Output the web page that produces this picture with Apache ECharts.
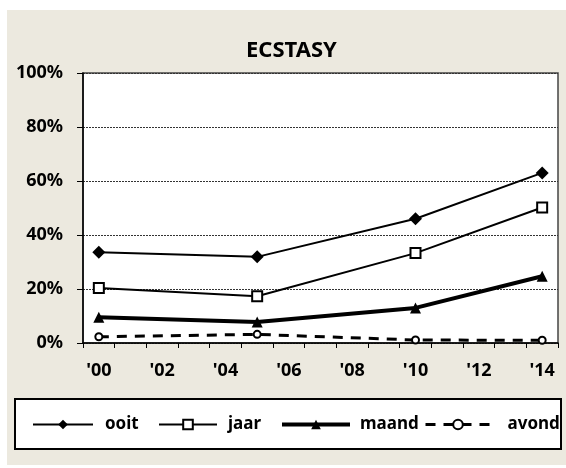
<!DOCTYPE html>
<html>
<head>
<meta charset="utf-8">
<script src="https://cdn.jsdelivr.net/npm/echarts@6/dist/echarts.min.js"></script>
<style>
  html, body { margin: 0; padding: 0; background: #ffffff; }
  #chart { width: 566px; height: 468px; }
</style>
</head>
<body>
<div id="chart"></div>
<script>
// Year categories on the x axis ('00 .. '14), only every other one is labelled
const years = ['\'00', '\'01', '\'02', '\'03', '\'04', '\'05', '\'06', '\'07',
               '\'08', '\'09', '\'10', '\'11', '\'12', '\'13', '\'14'];
// Survey years in which measurements were taken
const surveyYears = ['\'00', '\'05', '\'10', '\'14'];
// Prevalence of ecstasy use (%)
const ooit  = [33.6, 31.9, 46.0, 63.0];
const jaar  = [20.4, 17.3, 33.3, 50.2];
const maand = [9.5, 7.8, 13.0, 24.7];
const avond = [2.3, 3.2, 1.1, 1.0];
// Y axis ticks (%)
const yTicks = [0, 20, 40, 60, 80, 100];
const seriesNames = ['ooit', 'jaar', 'maand', 'avond'];

function spread(values) {
  const out = years.map(() => null);
  surveyYears.forEach((y, i) => { out[years.indexOf(y)] = values[i]; });
  return out;
}

const FONT = '"Noto Sans", "DejaVu Sans", sans-serif';
const chart = echarts.init(document.getElementById('chart'), null, { renderer: 'canvas' });

// one legend per entry so each key sits at its own spot inside the box
const legendLayout = [
  { left: 32, width: 60, gap: 7, line: 2 },
  { left: 158, width: 58, gap: 6, line: 2 },
  { left: 280, width: 68, gap: 5, line: 4 },
  { left: 424, width: 65, gap: 12, line: 3 }
];
const legends = seriesNames.map((name, i) => ({
  left: legendLayout[i].left, top: 416,
  padding: 0,
  itemWidth: legendLayout[i].width, itemHeight: 12,
  textStyle: { fontFamily: FONT, fontSize: 17, fontWeight: 'bold', color: '#000',
               padding: [0, 0, 0, legendLayout[i].gap] },
  data: [{ name: name, lineStyle: { width: legendLayout[i].line } }]
}));

chart.setOption({
  backgroundColor: '#ffffff',
  animation: false,
  textStyle: { fontFamily: FONT },
  graphic: [
    { type: 'rect', z: -10, shape: { x: 7, y: 10, width: 559, height: 455 },
      style: { fill: '#ECE9DF' } },
    { type: 'rect', z: 0, shape: { x: 15, y: 399, width: 546, height: 50 },
      style: { fill: '#ffffff', stroke: '#000000', lineWidth: 2 } }
  ],
  title: {
    text: 'ECSTASY',
    left: 246, top: 40,
    padding: 0,
    textStyle: { fontFamily: FONT, fontSize: 22, fontWeight: 'bold', color: '#000' }
  },
  legend: legends,
  grid: {
    left: 83, right: 8, top: 73, bottom: 125,
    show: true, backgroundColor: '#ffffff', borderColor: '#444', borderWidth: 1.5
  },
  xAxis: {
    type: 'category',
    data: years,
    boundaryGap: true,
    axisLine: { lineStyle: { color: '#000', width: 1.5 } },
    axisTick: { show: true, interval: 0, length: 5, lineStyle: { color: '#000', width: 1 } },
    axisLabel: { interval: 1, margin: 19, fontFamily: FONT, fontSize: 18, fontWeight: 'bold', color: '#000' }
  },
  yAxis: {
    type: 'value',
    min: yTicks[0], max: yTicks[yTicks.length - 1], interval: 20,
    axisLine: { show: true, lineStyle: { color: '#000', width: 1.5 } },
    axisTick: { show: true, length: 6, lineStyle: { color: '#000' } },
    axisLabel: { margin: 20, formatter: '{value}%', fontFamily: FONT, fontSize: 18, fontWeight: 'bold', color: '#000' },
    splitLine: { show: true, lineStyle: { color: '#333', type: [2, 1], width: 1 } }
  },
  series: [
    { name: 'ooit', type: 'line', data: spread(ooit), connectNulls: true,
      symbol: 'diamond', symbolSize: 13, showSymbol: true,
      lineStyle: { color: '#000', width: 2 },
      itemStyle: { color: '#000', borderColor: '#000', borderWidth: 0 } },
    { name: 'jaar', type: 'line', data: spread(jaar), connectNulls: true,
      symbol: 'rect', symbolSize: 10,
      lineStyle: { color: '#000', width: 2 },
      itemStyle: { color: '#fff', borderColor: '#000', borderWidth: 2 } },
    { name: 'maand', type: 'line', data: spread(maand), connectNulls: true,
      symbol: 'triangle', symbolSize: 11,
      lineStyle: { color: '#000', width: 4 },
      itemStyle: { color: '#000', borderColor: '#000', borderWidth: 0 } },
    { name: 'avond', type: 'line', data: spread(avond), connectNulls: true,
      symbol: 'circle', symbolSize: 7,
      lineStyle: { color: '#000', width: 3, type: [10, 8] },
      itemStyle: { color: '#fff', borderColor: '#000', borderWidth: 2 } }
  ]
});
</script>
</body>
</html>
